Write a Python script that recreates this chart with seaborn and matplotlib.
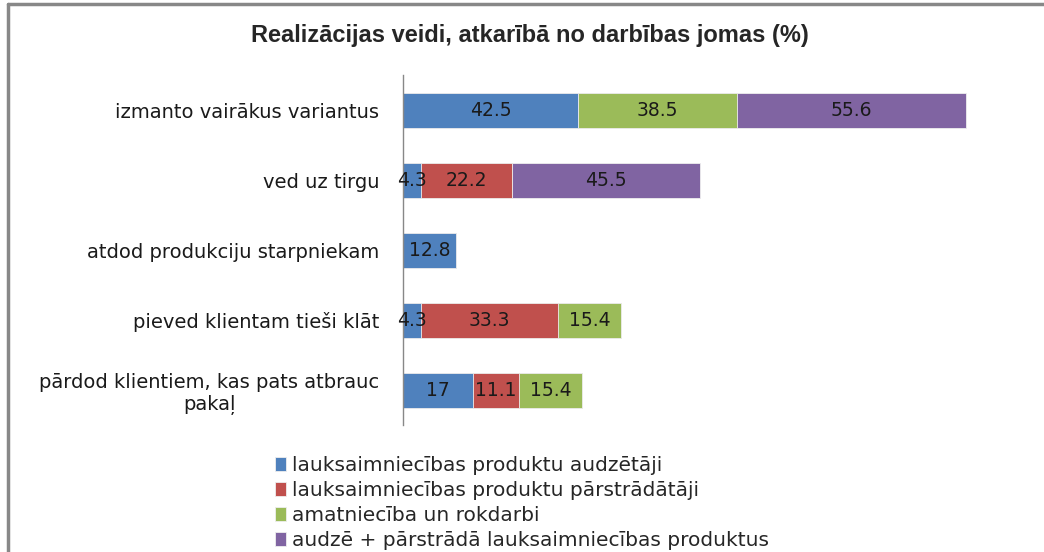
import numpy as np
import pandas as pd
import matplotlib
matplotlib.use("Agg")
import matplotlib.pyplot as plt
import matplotlib.lines as mlines
import seaborn as sns

# data
categories = ["izmanto vairākus variantus", "ved uz tirgu", "atdod produkciju starpniekam",
              "pieved klientam tieši klāt", "pārdod klientiem, kas pats atbrauc\npakaļ"]
series = ["lauksaimniecības produktu audzētāji",
          "lauksaimniecības produktu pārstrādātāji",
          "amatniecība un rokdarbi",
          "audzē + pārstrādā lauksaimniecības produktus"]
audzetaji = [42.5, 4.3, 12.8, 4.3, 17]
parstradataji = [0, 22.2, 0, 33.3, 11.1]
amatnieciba = [38.5, 0, 0, 15.4, 15.4]
audze_parstrada = [55.6, 45.5, 0, 0, 0]
colors = ["#4F81BD", "#C0504D", "#9BBB59", "#8064A2"]

sns.set_theme(style = "white")
plt.rcParams["font.family"] = ["DejaVu Sans"]

vals = pd.DataFrame(
    np.array([audzetaji, parstradataji, amatnieciba, audze_parstrada]).T,
    index = categories, columns = series
)
cum = vals.cumsum(axis = 1)

fig = plt.figure(figsize = (10.44, 5.52), dpi = 100)
ax = fig.add_axes([0.386, 0.23, 0.592, 0.634])

# stacked bars: draw cumulative totals from the last series back to the first
for s, c in reversed(list(zip(series, colors))):
    d = pd.DataFrame({"cat": categories, "val": cum[s].values})
    sns.barplot(data = d, x = "val", y = "cat", orient = "h", color = c,
                saturation = 1, width = 0.5, edgecolor = "#eeeeee", linewidth = 0.6,
                ax = ax, label = s)

# segment labels
for i, cat in enumerate(categories):
    for s in series:
        v = vals.loc[cat, s]
        if v > 0:
            ax.text(cum.loc[cat, s] - v / 2, i, f"{v:g}", ha = "center", va = "center",
                    fontsize = 13.5, color = "#1a1a1a")

ax.set_xlim(0, 150)
ax.set_ylim(4.5, -0.5)
ax.set_xlabel("")
ax.set_ylabel("")
ax.set_xticks([])
ax.tick_params(axis = "y", length = 0, pad = 17, labelsize = 14, labelcolor = "#1a1a1a")
for lbl in ax.get_yticklabels():
    lbl.set_multialignment("center")
for side in ["top", "right", "bottom"]:
    ax.spines[side].set_visible(False)
ax.spines["left"].set_color("#888888")
ax.spines["left"].set_linewidth(1)

fig.text(0.508, 0.936, "Realizācijas veidi, atkarībā no darbības jomas (%)",
         ha = "center", va = "center", fontsize = 17, fontweight = "bold",
         family = ["Liberation Sans", "DejaVu Sans"])

handles, labels = ax.get_legend_handles_labels()
if ax.get_legend() is not None:
    ax.get_legend().remove()
order = [labels.index(s) for s in series]
fig.legend([handles[k] for k in order], [labels[k] for k in order],
           loc = "upper left", bbox_to_anchor = (0.263, 0.174), frameon = False,
           fontsize = 14.5, handlelength = 0.55, handleheight = 0.65, handletextpad = 0.3,
           labelspacing = 0.3, borderaxespad = 0, borderpad = 0)

# chart frame (top and left edges visible in the reference)
fig.add_artist(mlines.Line2D([0.008, 1], [0.992, 0.992], color = "#888888", lw = 2.5,
                             transform = fig.transFigure))
fig.add_artist(mlines.Line2D([0.008, 0.008], [0, 0.992], color = "#888888", lw = 2.5,
                             transform = fig.transFigure))

fig.savefig("out.png", dpi = 100)
